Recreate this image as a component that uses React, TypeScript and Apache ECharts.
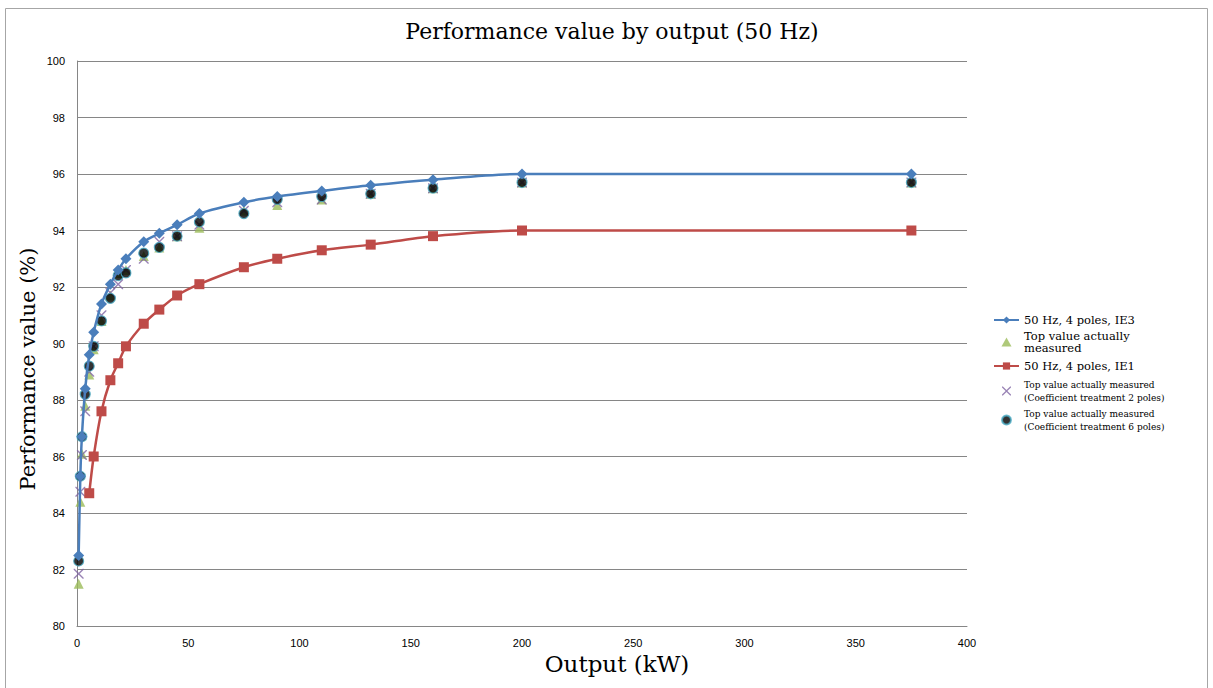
import React, { useEffect, useRef } from "react";
import * as echarts from "echarts";

const outputs = [0.75, 1.5, 2.2, 3.7, 5.5, 7.5, 11, 15, 18.5, 22, 30, 37, 45, 55, 75, 90, 110, 132, 160, 200, 375];
const ie3 = [82.5, 85.3, 86.7, 88.4, 89.6, 90.4, 91.4, 92.1, 92.6, 93.0, 93.6, 93.9, 94.2, 94.6, 95.0, 95.2, 95.4, 95.6, 95.8, 96.0, 96.0];
const ie1Outputs = [5.5, 7.5, 11, 15, 18.5, 22, 30, 37, 45, 55, 75, 90, 110, 132, 160, 200, 375];
const ie1 = [84.7, 86.0, 87.6, 88.7, 89.3, 89.9, 90.7, 91.2, 91.7, 92.1, 92.7, 93.0, 93.3, 93.5, 93.8, 94.0, 94.0];
const measured = [81.5, 84.4, 86.1, 87.8, 88.9, 89.8, 90.8, 91.7, 92.5, 92.6, 93.1, 93.4, 93.8, 94.1, 94.7, 94.9, 95.1, 95.3, 95.5, 95.7, 95.7];
const measured2p = [81.85, 84.75, 86.05, 87.6, 89.0, 89.9, 91.0, 91.8, 92.1, 92.6, 93.0, 93.6, 93.8, 94.2, 94.7, 95.0, 95.1, 95.3, 95.5, 95.7, 95.7];
const measured6p = [82.3, 85.3, 86.7, 88.2, 89.2, 89.9, 90.8, 91.6, 92.4, 92.5, 93.2, 93.4, 93.8, 94.3, 94.6, 95.1, 95.2, 95.3, 95.5, 95.7, 95.7];

const titleText = "Performance value by output (50 Hz)";
const xName = "Output (kW)";
const yName = "Performance value (%)";
const nIE3 = "50 Hz, 4 poles, IE3";
const nMeas = "Top value actually\nmeasured";
const nIE1 = "50 Hz, 4 poles, IE1";
const n2p = "Top value actually measured\n(Coefficient treatment 2 poles)";
const n6p = "Top value actually measured\n(Coefficient treatment 6 poles)";

const SERIF = "DejaVu Serif";
const SANS = "Liberation Sans";
const X_SYMBOL =
  "path://M0,0L1,0L5,4L9,0L10,0L10,1L6,5L10,9L10,10L9,10L5,6L1,10L0,10L0,9L4,5L0,1Z";
const TRI_SYMBOL = "path://M5,0L10,9L0,9Z";

const pairs = (xs: number[], ys: number[]) => xs.map((x, i) => [x, ys[i]]);

export default function App() {
  const ref = useRef<HTMLDivElement>(null);
  useEffect(() => {
    document.body.style.margin = "0";
    const chart = echarts.init(ref.current!, null, { renderer: "svg" });
    chart.setOption({
      animation: false,
      backgroundColor: "#ffffff",
      graphic: [
        {
          type: "rect",
          shape: { x: 5.5, y: 8.5, width: 1202, height: 700 },
          style: { fill: "none", stroke: "#a6a6a6", lineWidth: 1 },
          silent: true,
        },
        {
          type: "text",
          x: 612,
          y: 31,
          style: {
            text: titleText,
            fontFamily: SERIF,
            fontSize: 22,
            fill: "#000",
            align: "center",
            verticalAlign: "middle",
          },
        },
        {
          type: "text",
          x: 617,
          y: 664,
          style: {
            text: xName,
            fontFamily: SERIF,
            fontSize: 23,
            fill: "#000",
            align: "center",
            verticalAlign: "middle",
          },
        },
        {
          type: "text",
          x: 28,
          y: 369,
          rotation: Math.PI / 2,
          style: {
            text: yName,
            fontFamily: SERIF,
            fontSize: 21,
            fill: "#000",
            align: "center",
            verticalAlign: "middle",
          },
        },
      ],
      grid: { left: 77, right: 246, top: 61, bottom: 62, containLabel: false },
      legend: {
        orient: "vertical",
        left: 993,
        top: 313,
        padding: 0,
        itemWidth: 25,
        itemHeight: 9,
        itemGap: 3,
        textStyle: { fontFamily: SERIF, color: "#000", fontSize: 11.5, lineHeight: 12 },
        data: [
          { name: nIE3, textStyle: { fontSize: 11.5, lineHeight: 14 } },
          { name: nMeas, icon: TRI_SYMBOL, textStyle: { fontSize: 11.5, lineHeight: 12 } },
          { name: nIE1, textStyle: { fontSize: 11.5, lineHeight: 18 } },
          { name: n2p, textStyle: { fontSize: 9, lineHeight: 13 } },
          { name: n6p, textStyle: { fontSize: 9, lineHeight: 13 } },
        ],
      },
      xAxis: {
        type: "value",
        min: 0,
        max: 400,
        interval: 50,
        axisLine: { show: true, lineStyle: { color: "#868686", width: 1 } },
        axisTick: { show: false },
        axisLabel: { fontFamily: SANS, fontSize: 11, color: "#000", margin: 11 },
        splitLine: { show: false },
      },
      yAxis: {
        type: "value",
        min: 80,
        max: 100,
        interval: 2,
        axisLine: { show: true, lineStyle: { color: "#868686", width: 1 } },
        axisTick: { show: false },
        axisLabel: { fontFamily: SANS, fontSize: 11, color: "#000", margin: 12 },
        splitLine: { show: true, lineStyle: { color: "#868686", width: 1 } },
      },
      series: [
        {
          name: nIE3,
          type: "line",
          data: pairs(outputs, ie3),
          smooth: 0.3,
          symbol: "diamond",
          symbolSize: 11,
          lineStyle: { color: "#4a7ebb", width: 2.5 },
          itemStyle: { color: "#4a7ebb" },
        },
        {
          name: nMeas,
          type: "scatter",
          data: pairs(outputs, measured),
          symbol: "triangle",
          symbolSize: 10,
          itemStyle: { color: "#9bbb59" },
        },
        {
          name: nIE1,
          type: "line",
          data: pairs(ie1Outputs, ie1),
          smooth: 0.3,
          symbol: "rect",
          symbolSize: 10,
          lineStyle: { color: "#be4b48", width: 2.5 },
          itemStyle: { color: "#be4b48" },
        },
        {
          name: n2p,
          type: "scatter",
          data: pairs(outputs, measured2p),
          symbol: X_SYMBOL,
          symbolSize: 10,
          itemStyle: { color: "#8064a2" },
        },
        {
          name: n6p,
          type: "scatter",
          data: pairs(outputs, measured6p),
          symbol: "circle",
          symbolSize: 10,
          itemStyle: { color: "#000000", borderColor: "#4bacc6", borderWidth: 1.2 },
        },
      ],
    });
    return () => chart.dispose();
  }, []);
  return <div ref={ref} style={{ width: 1213, height: 688 }} />;
}
